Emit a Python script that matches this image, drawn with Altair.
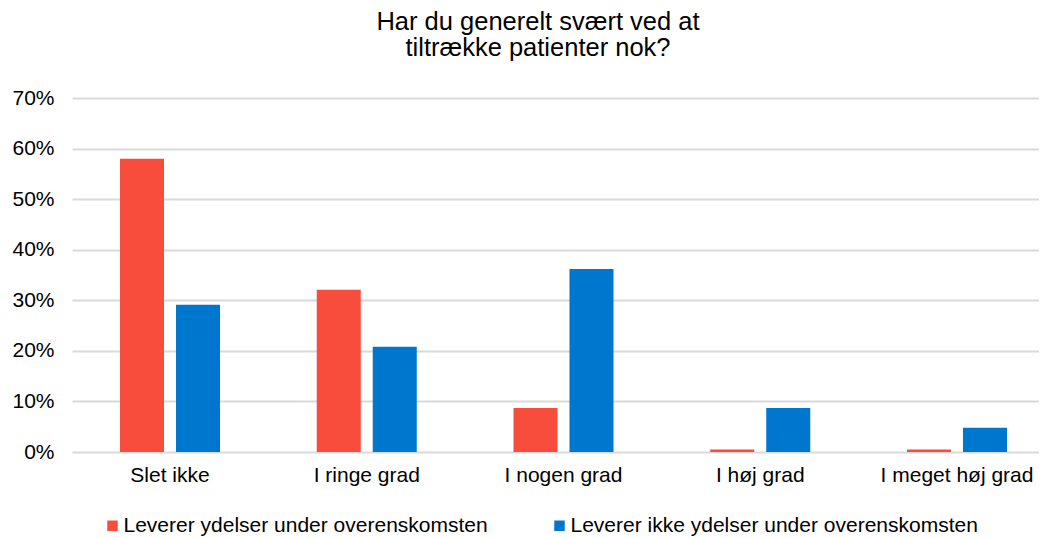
import altair as alt
import pandas as pd

categories = ["Slet ikke", "I ringe grad", "I nogen grad", "I høj grad", "I meget høj grad"]
series = ["Leverer ydelser under overenskomsten", "Leverer ikke ydelser under overenskomsten"]
red_values = [0.580, 0.321, 0.087, 0.005, 0.005]
blue_values = [0.291, 0.208, 0.362, 0.087, 0.048]
colors = ["#F84C3D", "#0077CF"]

rows = []
for c, r, b in zip(categories, red_values, blue_values):
    rows.append({"cat": c, "serie": series[0], "val": r})
    rows.append({"cat": c, "serie": series[1], "val": b})
df = pd.DataFrame(rows)

FONT = "Liberation Sans"

chart = alt.Chart(df).mark_bar().encode(
    x=alt.X("cat:N", sort=categories, title=None,
            scale=alt.Scale(paddingInner=0.4917, paddingOuter=0.2033, align=0.6),
            axis=alt.Axis(labelAngle=0, domain=False, ticks=False, labelPadding=12,
                          labelFontSize=21, labelFont=FONT, labelColor="#000000")),
    xOffset=alt.XOffset("serie:N", sort=series,
                        scale=alt.Scale(paddingInner=0.214, paddingOuter=0)),
    y=alt.Y("val:Q", title=None,
            scale=alt.Scale(domain=[0, 0.7]),
            axis=alt.Axis(format=".0%", values=[0, 0.1, 0.2, 0.3, 0.4, 0.5, 0.6, 0.7],
                          domain=False, ticks=False, labelPadding=18,
                          labelFontSize=21, labelFont=FONT, labelColor="#000000",
                          gridColor="#D9D9D9", gridWidth=2)),
    color=alt.Color("serie:N", sort=series, title=None,
                    scale=alt.Scale(domain=series, range=colors),
                    legend=alt.Legend(orient="none", legendX=30, legendY=417,
                                      direction="horizontal", symbolType="square",
                                      symbolSize=110, symbolStrokeWidth=0,
                                      labelFontSize=21, labelFont=FONT, labelColor="#000000",
                                      labelOffset=0.5, columnPadding=61, labelLimit=600)),
).properties(
    width=967,
    height=354,
    padding={"left": 64, "top": 90, "right": 0, "bottom": 86},
    autosize=alt.AutoSizeParams(type="none"),
    title=alt.TitleParams(
        text=["Har du generelt svært ved at", "tiltrække patienter nok?"],
        font=FONT, fontSize=25.5, fontWeight="normal", color="#000000",
        lineHeight=26, anchor="middle", dx=-17.5, offset=26,
    ),
).configure_view(stroke=None)

chart.save("out.html", embed_options={"renderer": "svg", "actions": False})
